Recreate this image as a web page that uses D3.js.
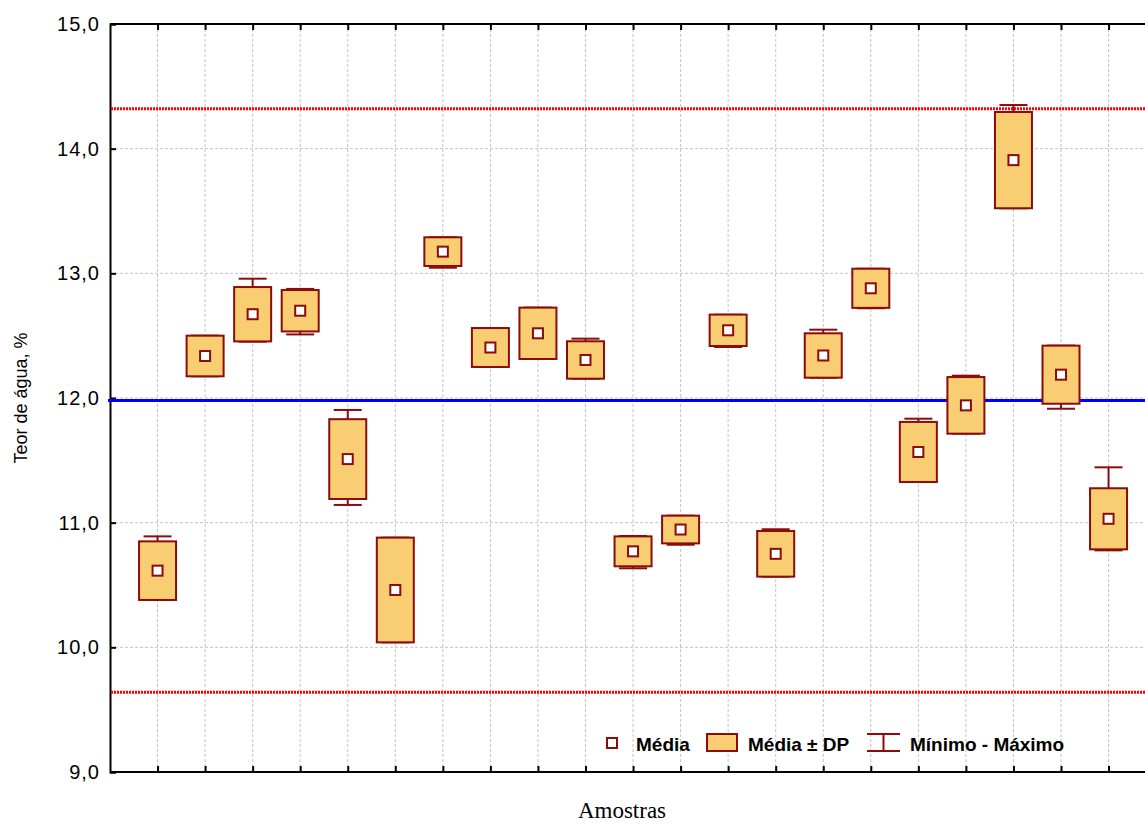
<!DOCTYPE html>
<html>
<head>
<meta charset="utf-8">
<script src="https://cdn.jsdelivr.net/npm/d3@7"></script>
<style>
  html, body { margin: 0; padding: 0; background: #fff; }
  svg { display: block; }
</style>
</head>
<body>
<svg id="chart" width="1145" height="824"></svg>
<script>
// Samples (unlabelled on the axis)
const amostras = ["1","2","3","4","5","6","7","8","9","10","11","12","13","14","15","16","17","18","19","20","21"];

// Mean water content per sample (%)
const media = [10.615, 12.337, 12.672, 12.700, 11.510, 10.460, 13.174, 12.405, 12.519, 12.305, 10.770,
               10.945, 12.543, 10.750, 12.341, 12.880, 11.567, 11.941, 13.908, 12.187, 11.031];
// Standard deviation per sample
const dp = [0.235, 0.163, 0.218, 0.166, 0.320, 0.420, 0.115, 0.156, 0.206, 0.150, 0.120,
            0.111, 0.126, 0.183, 0.178, 0.157, 0.241, 0.227, 0.386, 0.233, 0.245];
// Minimum and maximum per sample
const minimo = [10.380, 12.174, 12.452, 12.510, 11.142, 10.040, 13.045, 12.249, 12.313, 12.155, 10.634,
                10.823, 12.409, 10.567, 12.163, 12.720, 11.326, 11.714, 13.522, 11.914, 10.778];
const maximo = [10.890, 12.500, 12.957, 12.875, 11.904, 10.880, 13.289, 12.560, 12.725, 12.476, 10.893,
                11.056, 12.668, 10.947, 12.548, 13.037, 11.834, 12.179, 14.350, 12.420, 11.444];

// Reference lines: overall mean and control limits
const linhaMedia = 11.98;
const limites = [14.32, 9.64];

// Y axis ticks
const yTicks = [9, 10, 11, 12, 13, 14, 15];

const legenda = ["Média", "Média ± DP", "Mínimo - Máximo"];

const svg = d3.select("#chart");
const pLeft = 110, pTop = 24, pBottom = 772, step = 47.55;

const x = d3.scaleLinear().domain([-1, amostras.length]).range([pLeft, pLeft + (amostras.length + 1) * step]);
const y = d3.scaleLinear().domain([9, 15]).range([pBottom, pTop]);

const ptBR = d3.formatLocale({decimal: ",", thousands: ".", grouping: [3], currency: ["", ""]});
const fmt = ptBR.format(".1f");

const dark = "#8c0b0b", fill = "#f9ce73";
const idx = amostras.map((d, i) => i);

// Grid
const grid = svg.append("g").attr("stroke", "#c4c4c4").attr("stroke-width", 1).attr("stroke-dasharray", "3,2");
grid.selectAll("line.v").data(idx).join("line").attr("class", "v")
  .attr("x1", i => x(i)).attr("x2", i => x(i)).attr("y1", pTop).attr("y2", pBottom);
grid.selectAll("line.h").data(yTicks.slice(1, -1)).join("line").attr("class", "h")
  .attr("x1", pLeft).attr("x2", 1145).attr("y1", d => y(d)).attr("y2", d => y(d));

// Axes
const axisL = d3.axisLeft(y).tickValues(yTicks).tickSize(-6).tickPadding(16).tickFormat(fmt);
const gy = svg.append("g").attr("transform", `translate(${pLeft},0)`).call(axisL);
gy.select(".domain").attr("stroke", "#000").attr("stroke-width", 2);
gy.selectAll(".tick line").attr("stroke", "#000").attr("stroke-width", 2);
gy.selectAll(".tick text").attr("font-family", "Liberation Sans, Arial, sans-serif")
  .attr("font-size", 20).attr("letter-spacing", 1).attr("fill", "#000").attr("x", -10);

const axisB = d3.axisBottom(x).tickValues(idx).tickSize(-6).tickFormat("");
const gb = svg.append("g").attr("transform", `translate(0,${pBottom})`).call(axisB);
const axisT = d3.axisTop(x).tickValues(idx).tickSize(-6).tickFormat("");
const gt = svg.append("g").attr("transform", `translate(0,${pTop})`).call(axisT);
[gb, gt].forEach(g => {
  g.select(".domain").attr("stroke", "#000").attr("stroke-width", 2).attr("d", `M${pLeft},0H1145`);
  g.selectAll(".tick line").attr("stroke", "#000").attr("stroke-width", 2);
});

// Reference lines
svg.append("line").attr("x1", pLeft - 2).attr("x2", 1145).attr("y1", y(linhaMedia)).attr("y2", y(linhaMedia))
  .attr("stroke", "#0000ff").attr("stroke-width", 3);
svg.selectAll("line.lim").data(limites).join("line").attr("class", "lim")
  .attr("x1", pLeft + 1).attr("x2", 1145).attr("y1", d => y(d)).attr("y2", d => y(d))
  .attr("stroke", "#ff0000").attr("stroke-width", 3).attr("stroke-dasharray", "2,1");

// Whiskers (min - max)
const bw = 37, cw = 28, ms = 10;
const marks = svg.append("g");
marks.selectAll("line.w").data(idx).join("line").attr("class", "w")
  .attr("x1", i => x(i)).attr("x2", i => x(i)).attr("y1", i => y(maximo[i])).attr("y2", i => y(minimo[i]))
  .attr("stroke", dark).attr("stroke-width", 2);
marks.selectAll("line.cmax").data(idx).join("line").attr("class", "cmax")
  .attr("x1", i => x(i) - cw / 2).attr("x2", i => x(i) + cw / 2).attr("y1", i => y(maximo[i])).attr("y2", i => y(maximo[i]))
  .attr("stroke", dark).attr("stroke-width", 2);
marks.selectAll("line.cmin").data(idx).join("line").attr("class", "cmin")
  .attr("x1", i => x(i) - cw / 2).attr("x2", i => x(i) + cw / 2).attr("y1", i => y(minimo[i])).attr("y2", i => y(minimo[i]))
  .attr("stroke", dark).attr("stroke-width", 2);

// Boxes (mean ± SD)
marks.selectAll("rect.box").data(idx).join("rect").attr("class", "box")
  .attr("x", i => x(i) - bw / 2).attr("width", bw)
  .attr("y", i => y(media[i] + dp[i])).attr("height", i => y(media[i] - dp[i]) - y(media[i] + dp[i]))
  .attr("fill", fill).attr("stroke", dark).attr("stroke-width", 2);

// Mean markers
marks.selectAll("rect.mean").data(idx).join("rect").attr("class", "mean")
  .attr("x", i => x(i) - ms / 2).attr("y", i => y(media[i]) - ms / 2).attr("width", ms).attr("height", ms)
  .attr("fill", "#fff").attr("stroke", dark).attr("stroke-width", 2);

// Legend
const lg = svg.append("g").attr("font-family", "Liberation Sans, Arial, sans-serif")
  .attr("font-size", 19).attr("font-weight", "bold").attr("fill", "#000");
lg.append("rect").attr("x", 607).attr("y", 738).attr("width", 10).attr("height", 10)
  .attr("fill", "#fff").attr("stroke", dark).attr("stroke-width", 2);
lg.append("text").attr("x", 636).attr("y", 751).text(legenda[0]);
lg.append("rect").attr("x", 707).attr("y", 734).attr("width", 30).attr("height", 17)
  .attr("fill", fill).attr("stroke", dark).attr("stroke-width", 2);
lg.append("text").attr("x", 748).attr("y", 751).text(legenda[1]);
lg.append("line").attr("x1", 867).attr("x2", 900).attr("y1", 734).attr("y2", 734).attr("stroke", dark).attr("stroke-width", 2);
lg.append("line").attr("x1", 867).attr("x2", 900).attr("y1", 751).attr("y2", 751).attr("stroke", dark).attr("stroke-width", 2);
lg.append("line").attr("x1", 883.5).attr("x2", 883.5).attr("y1", 734).attr("y2", 751).attr("stroke", dark).attr("stroke-width", 2);
lg.append("text").attr("x", 910).attr("y", 751).text(legenda[2]);

// Axis titles
svg.append("text").attr("transform", `translate(27,${(pTop + pBottom) / 2}) rotate(-90)`)
  .attr("text-anchor", "middle").attr("font-family", "Liberation Sans, Arial, sans-serif")
  .attr("font-size", 18).attr("fill", "#000").text("Teor de água, %");
svg.append("text").attr("x", 622).attr("y", 818).attr("text-anchor", "middle")
  .attr("font-family", "Liberation Serif, 'Times New Roman', serif").attr("font-size", 23)
  .attr("fill", "#000").text("Amostras");
</script>
</body>
</html>
